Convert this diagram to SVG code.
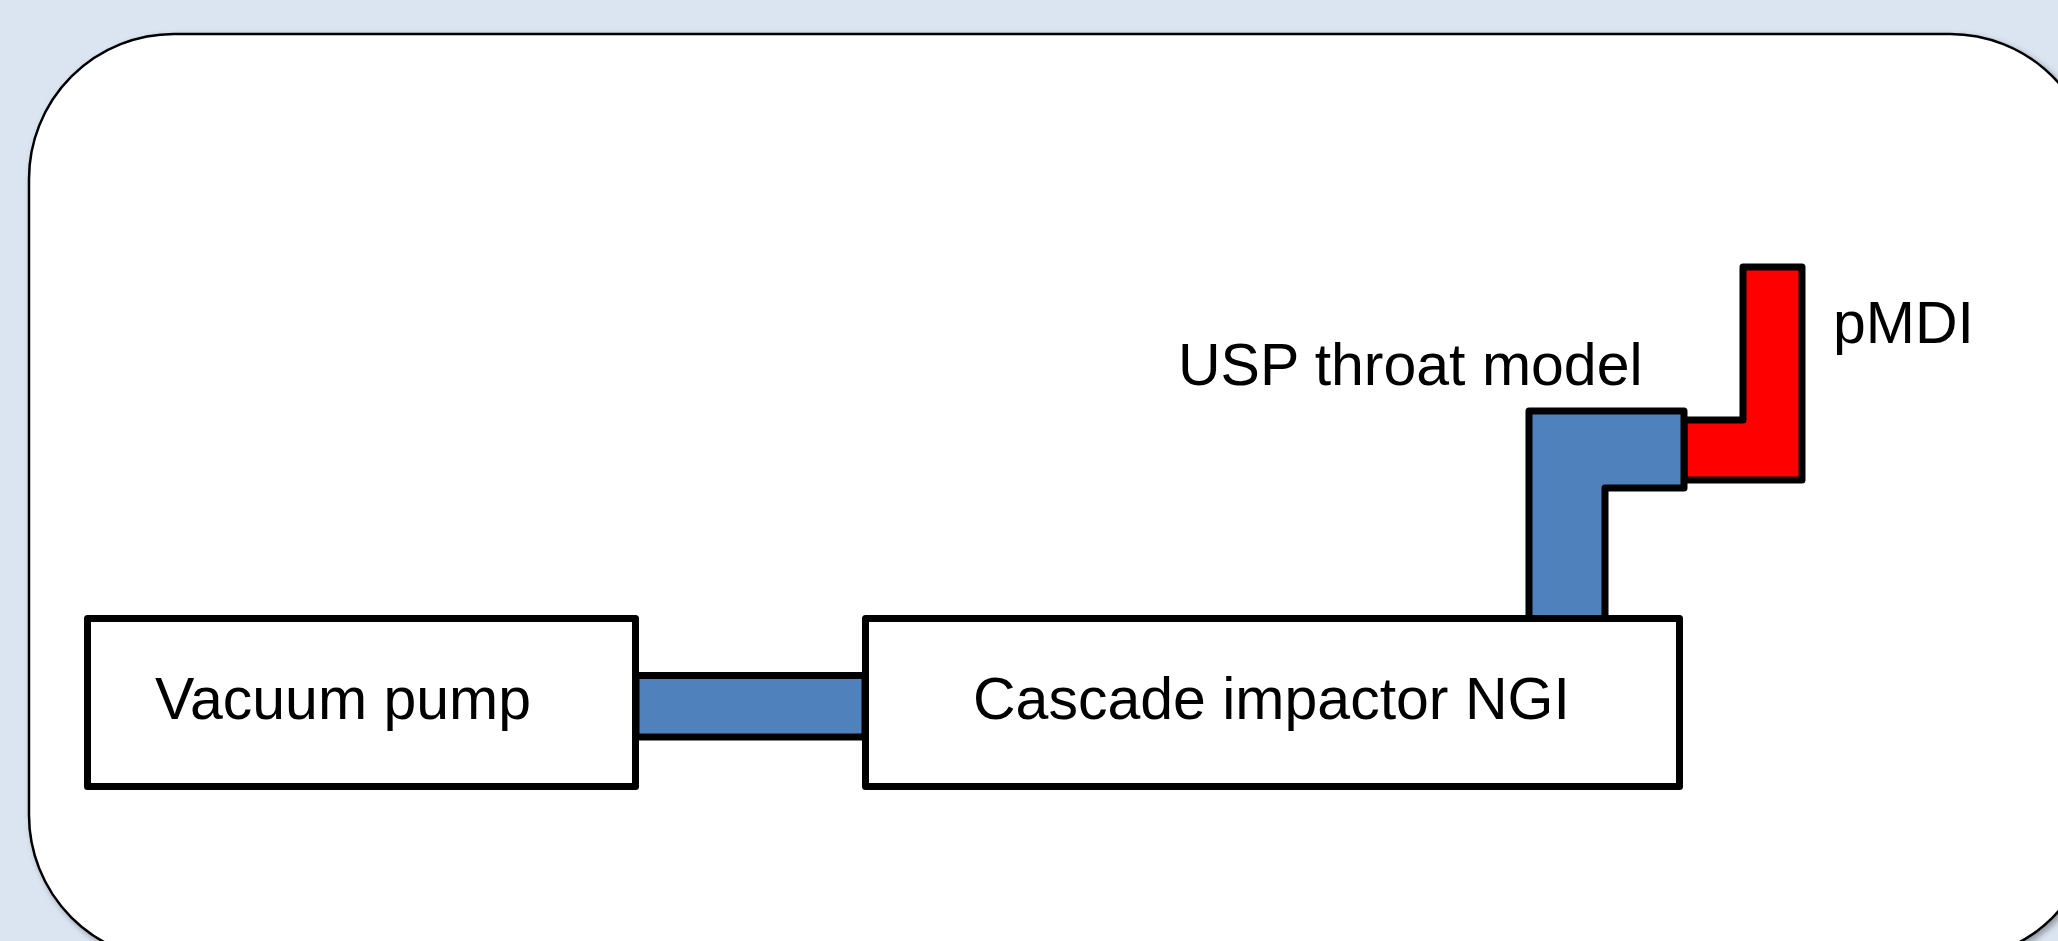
<svg xmlns="http://www.w3.org/2000/svg" width="2058" height="941" viewBox="0 0 2058 941">
  <style>
    .box { fill: #ffffff; stroke: #000000; stroke-width: 7; stroke-linejoin: round; }
    .tube { fill: #4F81BD; stroke: #000000; stroke-width: 7; stroke-linejoin: round; }
    .device { fill: #FF0000; stroke: #000000; stroke-width: 7; stroke-linejoin: round; }
    .lbl { font-family: "Liberation Sans", Arial, sans-serif; font-size: 59px; fill: #000000; }
  </style>
  <defs>
    <filter id="sh" x="-5%" y="-5%" width="110%" height="110%">
      <feDropShadow dx="3" dy="3" stdDeviation="3" flood-color="#000000" flood-opacity="0.35"/>
    </filter>
  </defs>
  <rect x="0" y="0" width="2058" height="941" fill="#DBE5F1"/>
  <rect id="frame" x="29" y="34" width="2066" height="926" rx="145" ry="145" fill="#ffffff" stroke="#000000" stroke-width="2.5" filter="url(#sh)"/>

  <g id="connectors">
    <rect x="636" y="675.5" width="229" height="61.5" class="tube"/>
  </g>

  <g id="pmdi">
    <polygon class="device" points="1684,420 1743,420 1743,267 1802,267 1802,480 1684,480"/>
    <text class="lbl" x="1833" y="343">pMDI</text>
  </g>

  <g id="usp-throat">
    <polygon class="tube" points="1529,625 1529,411 1684,411 1684,488 1605,488 1605,625"/>
    <text class="lbl" x="1178" y="385">USP throat model</text>
  </g>

  <g id="vacuum-pump">
    <rect class="box" x="87.5" y="618.5" width="548" height="168"/>
    <text class="lbl" x="155" y="719">Vacuum pump</text>
  </g>

  <g id="cascade-impactor">
    <rect class="box" x="865.5" y="618.5" width="814" height="168"/>
    <text class="lbl" x="973" y="719">Cascade impactor NGI</text>
  </g>
</svg>
